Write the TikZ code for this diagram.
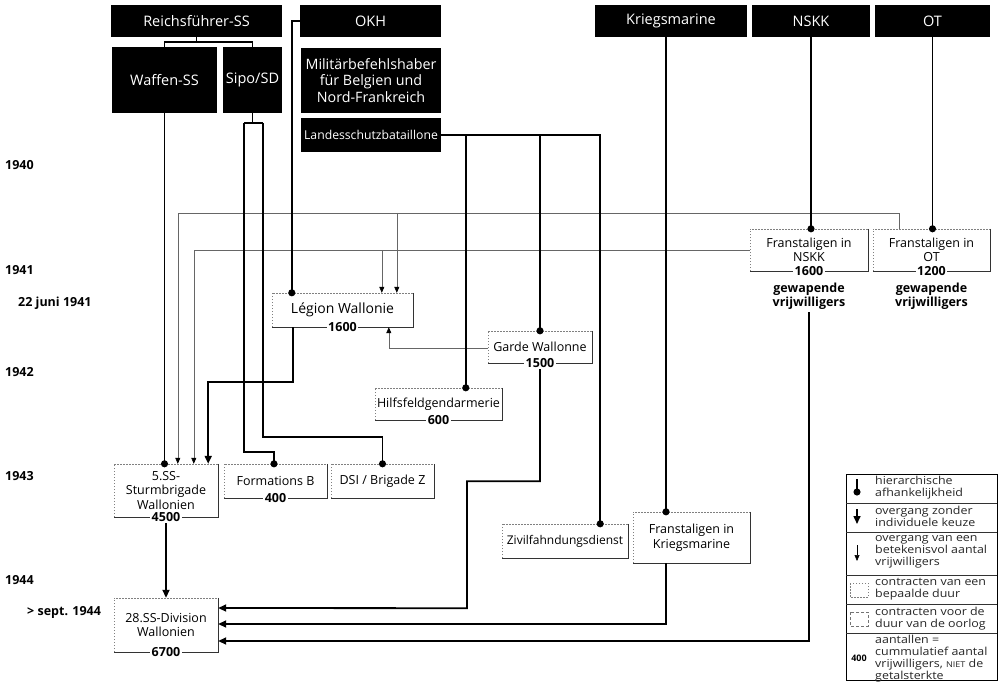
\documentclass[tikz,border=0pt]{standalone}
\usepackage{fontspec}
\setmainfont{Open Sans}
\newfontfamily\legfont[FakeStretch=1.13]{Open Sans}
\usetikzlibrary{arrows.meta,calc}
\tikzset{
 hdr/.style={fill=black, text=white, inner sep=0pt, align=center, font=\fontsize{14.5}{16.5}\selectfont},
 wb/.style={inner sep=0pt, align=center, font=\fontsize{12.5}{14.5}\selectfont},
 num/.style={fill=white, inner sep=1.5pt, font=\bfseries\fontsize{12.5}{14}\selectfont},
 yr/.style={anchor=west, inner sep=0pt, font=\bfseries\fontsize{12.5}{14}\selectfont},
 thk/.style={line width=1.8pt, black},
 hier/.style={thk, -{Circle[length=7pt,width=7pt]}, shorten >=-3.5pt},
 trans/.style={thk, -{Triangle[length=8pt,width=7pt]}},
 thinarr/.style={line width=0.6pt, black!60, -{Triangle[length=6pt,width=5pt,fill=black,color=black]}},
 dotl/.style={line width=0.5pt, black!50, dash pattern=on 1.5pt off 1.5pt},
 dshl/.style={line width=0.5pt, black!55, dash pattern=on 3pt off 2pt},
 sol/.style={line width=0.7pt, black!80},
 lgt/.style={anchor=north west, align=left, inner sep=0pt, text=black!85, font=\legfont\fontsize{11}{12}\selectfont},
}
\newcommand\wedges[1]{%
 \draw[dotl] (#1.south west) -- (#1.north west) -- (#1.north east);
 \draw[sol] (#1.north east) -- (#1.south east) -- (#1.south west);}
\begin{document}
\begin{tikzpicture}[x=1pt,y=-1pt]
\useasboundingbox (0,0) rectangle (1000,687);
\fill[white] (0,0) rectangle (1000,687);

% header boxes
\node[hdr, minimum width=171pt, minimum height=32pt] (rf) at (196.5,21) {Reichsführer-SS};
\node[hdr, minimum width=141pt, minimum height=32pt] (okh) at (370.5,21) {OKH};
\node[hdr, minimum width=152pt, minimum height=32pt] (km) at (671,21) {Kriegsmarine};
\node[hdr, minimum width=118pt, minimum height=32pt] (nskk) at (811,21) {NSKK};
\node[hdr, minimum width=115pt, minimum height=32pt] (ot) at (932.5,21) {OT};
\node[hdr, minimum width=105pt, minimum height=66pt] (waffen) at (164.5,80) {Waffen-SS};
\node[hdr, minimum width=59pt, minimum height=66pt] (sipo) at (252.5,80) {Sipo/SD};
\node[hdr, minimum width=140pt, minimum height=65pt, font=\fontsize{14.3}{16.5}\selectfont] (mbh) at (371,80.5) {Militärbefehlshaber\\für Belgien und\\Nord-Frankreich};
\node[hdr, minimum width=140pt, minimum height=34pt, font=\fontsize{12.2}{13}\selectfont] (lsb) at (371,135) {Landesschutzbataillone};

% white boxes
\node[wb, minimum width=141pt, minimum height=34pt, font=\fontsize{14}{15}\selectfont] (leg) at (342.5,310) {Légion Wallonie};
\node[wb, minimum width=104pt, minimum height=32pt] (garde) at (540,347) {Garde Wallonne};
\node[wb, minimum width=127pt, minimum height=32pt] (hilfs) at (438.5,404) {Hilfsfeldgendarmerie};
\node[wb, minimum width=104pt, minimum height=53pt] (ss5) at (166,490.5) {5.SS-\\Sturmbrigade\\Wallonien};
\node[wb, minimum width=103pt, minimum height=34pt] (formb) at (275.5,481) {Formations B};
\node[wb, minimum width=103pt, minimum height=34pt] (dsi) at (382.5,481) {DSI / Brigade Z};
\node[wb, minimum width=126pt, minimum height=34pt, font=\fontsize{12}{14}\selectfont] (ziv) at (565,541) {Zivilfahndungsdienst};
\node[wb, minimum width=117pt, minimum height=51pt] (fkm) at (691.5,537.5) {Franstaligen in\\Kriegsmarine};
\node[wb, minimum width=118pt, minimum height=42pt] (fnskk) at (809,250) {Franstaligen in\\NSKK};
\node[wb, minimum width=117pt, minimum height=42pt] (fot) at (931.5,250) {Franstaligen in\\OT};
\node[wb, minimum width=104pt, minimum height=54pt] (ss28) at (166,625) {28.SS-Division\\Wallonien};

\foreach \b in {leg,garde,hilfs,ss5,formb,dsi,ziv,fkm,fnskk,fot,ss28} {\wedges{\b}}

% helper coordinates
\coordinate (spL) at (244,123);
\coordinate (spR) at (263,123);
\coordinate (legA) at ([xshift=125pt]leg.north west);
\coordinate (legB) at ([xshift=110pt]leg.north west);
\coordinate (legC) at ([xshift=117pt]leg.south west);
\coordinate (ss5A) at ([xshift=64pt]ss5.north west);
\coordinate (ss5B) at ([xshift=80pt]ss5.north west);
\coordinate (ss5C) at ([xshift=-10pt]ss5.north east);
\coordinate (otTurn) at ([xshift=26pt,yshift=16pt]fot.north west);
\coordinate (H) at ([xshift=91pt]hilfs.north west);
\coordinate (Z) at ([xshift=-28pt]ziv.north east);
\coordinate (KM) at ([xshift=-5pt]km.south);
\coordinate (FK) at ([xshift=33pt]fkm.south west);
\coordinate (LS) at ([xshift=21pt]leg.south west);

% thin transitions
\draw[thinarr] ([xshift=26pt]fot.north west) -- (otTurn) -| (ss5A);
\draw[thinarr] (legA |- otTurn) -- (legA);
\draw[thinarr] (fnskk.west) -| (ss5B);
\draw[thinarr] (legB |- fnskk.west) -- (legB);
\draw[thinarr] ([yshift=-1pt]garde.west) -| (legC);

% hierarchy
\draw[thk] (rf.south) -- ++(0,5) -| (waffen.north);
\draw[thk] (rf.south) -- ++(0,5) -| (sipo.north);
\draw[hier] (okh.west) -| ([xshift=20pt]leg.north west);
\draw[hier] (waffen.south) -- (waffen.south |- ss5.north);
\draw[thk] (sipo.south) -- (sipo.south |- spL);
\draw[thk] (spL) -- (spR);
\draw[hier] (spL) -- ++(0,329) -| ([xshift=-1.5pt]formb.north);
\draw[hier] (spR) -- ++(0,314) -| (dsi.north);
\draw[thk] (lsb.east) -| (Z);
\draw[hier] (lsb.east -| Z) -- (Z);
\draw[hier] (lsb.east -| H) -- (H);
\draw[hier] (lsb.east -| garde.north) -- (garde.north);
\draw[hier] (KM) -- (KM |- fkm.north);
\draw[hier] (nskk.south) -- (nskk.south |- fnskk.north);
\draw[hier] (ot.south) -- (ot.south |- fot.north);

% transitions without choice
\draw[trans] (LS) -- ++(0,55) -| (ss5C);
\draw[trans] (ss5.south) -- (ss28.north);
\draw[trans] (garde.south) -- ++(0,118) -| ++(-73,127) -- ([yshift=17pt]ss28.east);
\draw[trans] (FK) |- ([yshift=1pt]ss28.east);
\draw[trans] ([yshift=-41pt]fnskk.south) |- ([yshift=-16pt]ss28.east);

% numbers
\node[num] at (leg.south) {1600};
\node[num] at (garde.south) {1500};
\node[num] at (hilfs.south) {600};
\node[num] at (ss5.south) {4500};
\node[num] at (formb.south) {400};
\node[num] at (ss28.south) {6700};
\node[num] at (fnskk.south) {1600};
\node[num] at (fot.south) {1200};
\node[num, fill=none, align=center, font=\bfseries\fontsize{12.5}{14}\selectfont] at (809,296) {gewapende\\vrijwilligers};
\node[num, fill=none, align=center, font=\bfseries\fontsize{12.5}{14}\selectfont] at (931.5,296) {gewapende\\vrijwilligers};

% years
\node[yr] at (5,165) {1940};
\node[yr] at (5,270) {1941};
\node[yr] at (18,303) {22 juni 1941};
\node[yr] at (5,372) {1942};
\node[yr] at (5,476) {1943};
\node[yr] at (5,580) {1944};
\node[yr] at (27,612) {> sept. 1944};

% legend
\node[draw, line width=0.6pt, minimum width=151pt, minimum height=206pt, inner sep=0pt] (legend) at (921.5,577) {};
\foreach \yy in {503,532,575,604,633} {\draw[sol, line width=0.5pt] (846,\yy) -- (997,\yy);}
\draw[hier, line width=1.5pt] (857,479) -- (857,492);
\draw[trans, line width=1.5pt] (857,509) -- (857,524);
\draw[thinarr, black] (857,545) -- (857,561);
\draw[dotl] (850,583) rectangle (868,597);
\draw[dshl] (850,612) rectangle (868,626);
\node[font=\bfseries\fontsize{9}{10}\selectfont, inner sep=0pt] at (859,658) {400};
\node[lgt] at (875,476) {hierarchische\\afhankelijkheid};
\node[lgt] at (875,506) {overgang zonder\\individuele keuze};
\node[lgt] at (875,535) {overgang van een\\betekenisvol aantal\\vrijwilligers};
\node[lgt] at (875,578) {contracten van een\\bepaalde duur};
\node[lgt] at (875,607) {contracten voor de\\duur van de oorlog};
\node[lgt] at (875,635) {aantallen =\\cummulatief aantal\\vrijwilligers, {\fontsize{8}{12}\selectfont NIET} de\\getalsterkte};
\end{tikzpicture}
\end{document}
